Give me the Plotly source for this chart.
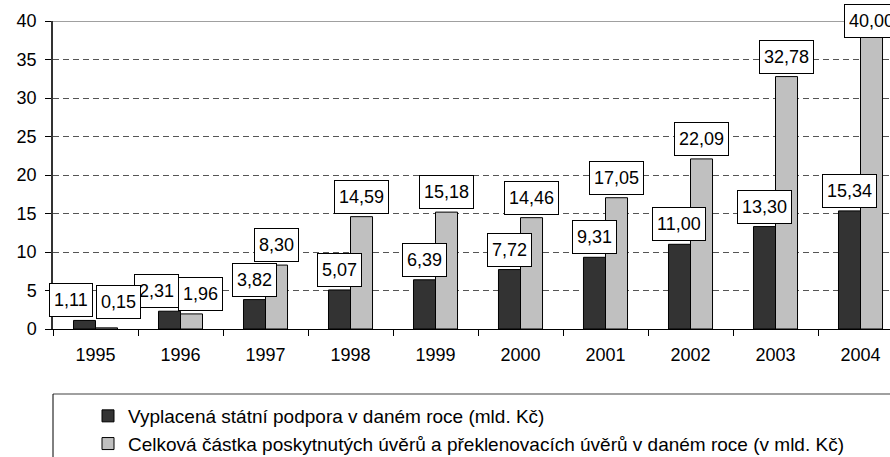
import plotly.graph_objects as go

years = ["1995", "1996", "1997", "1998", "1999", "2000", "2001", "2002", "2003", "2004"]
state_support = [1.11, 2.31, 3.82, 5.07, 6.39, 7.72, 9.31, 11.00, 13.30, 15.34]
total_loans = [0.15, 1.96, 8.30, 14.59, 15.18, 14.46, 17.05, 22.09, 32.78, 40.00]
y_ticks = [0, 5, 10, 15, 20, 25, 30, 35, 40]

name_support = "Vyplacená státní podpora v daném roce (mld. Kč)"
name_loans = "Celková částka poskytnutých úvěrů a překlenovacích úvěrů v daném roce (v mld. Kč)"

# label nudges (px) to avoid overlapping boxes
dx_support = [-13, -13, 0, 0, 0, 0, 0, 0, 0, 0]
dx_loans = [12, 9, 0, 0, 0, 0, 0, 0, 0, 0]
dy_loans = [6, 0, 0, 0, 0, 0, 0, 0, 0, 0]

W, H = 890, 457
ML, MR, MT, MB = 53, 0, 21, 128
BARGAP = 0.482
CAT_PX = 85.0
plot_w = W - ML - MR
plot_h = H - MT - MB
ymax = 40
x_hi = -0.5 + plot_w / CAT_PX

FONT = "Liberation Sans, Arial, sans-serif"

fig = go.Figure()
fig.add_trace(go.Bar(x=years, y=state_support, name=name_support,
                     marker=dict(color="#333333", line=dict(color="black", width=1)),
                     legendgroup="a"))
fig.add_trace(go.Bar(x=years, y=total_loans, name=name_loans,
                     marker=dict(color="#C0C0C0", line=dict(color="black", width=1)),
                     legendgroup="b"))

bar_off = (1 - BARGAP) / 4  # in category units
px_per_unit = plot_h / ymax
box_h = 34

for series, sign, dxs, dys in [(state_support, -1, dx_support, [0] * 10),
                               (total_loans, 1, dx_loans, dy_loans)]:
    for i, v in enumerate(series):
        txt = f"{v:.2f}".replace(".", ",")
        top_px = (ymax - v) * px_per_unit
        if top_px < box_h:
            yanchor, ysh = "middle", 0
        else:
            yanchor, ysh = "bottom", 3 + dys[i]
        fig.add_annotation(
            x=i + sign * bar_off, y=v, xref="x", yref="y", text=txt, showarrow=False,
            xanchor="center", yanchor=yanchor,
            xshift=dxs[i], yshift=ysh, height=24,
            font=dict(family=FONT, size=18, color="black"),
            bgcolor="white", bordercolor="black", borderwidth=1, borderpad=4,
        )

leg_top = -(394 - (H - MB)) / plot_h
fig.add_shape(type="line", xref="paper", yref="y", x0=0, x1=1, y0=ymax, y1=ymax,
              line=dict(color="#808080", width=1.5))
fig.add_shape(type="line", xref="paper", yref="paper", x0=0, x1=1.1, y0=leg_top, y1=leg_top,
              line=dict(color="#808080", width=1.5))
fig.add_shape(type="line", xref="paper", yref="paper", x0=0, x1=0, y0=leg_top, y1=-0.6,
              line=dict(color="black", width=1))

fig.update_layout(
    width=W, height=H,
    margin=dict(l=ML, r=MR, t=MT, b=MB, pad=0, autoexpand=False),
    plot_bgcolor="white", paper_bgcolor="white",
    barmode="group", bargap=BARGAP, bargroupgap=0,
    font=dict(family=FONT, size=17, color="black"),
    showlegend=True,
    legend=dict(x=(88 - ML) / plot_w, y=-(397 - (H - MB)) / plot_h,
                xanchor="left", yanchor="top",
                font=dict(family=FONT, size=19, color="black"),
                bgcolor="rgba(0,0,0,0)", borderwidth=0,
                traceorder="grouped", tracegroupgap=0),
    xaxis=dict(type="category", range=[-0.5, x_hi], automargin=False,
               showline=True, linecolor="black", linewidth=1,
               ticks="outside", tickson="boundaries", ticklen=6, tickcolor="black",
               showgrid=False, tickfont=dict(family=FONT, size=18),
               ticklabelstandoff=9),
    yaxis=dict(range=[0, ymax], tickvals=y_ticks, ticktext=[str(t) for t in y_ticks],
               automargin=False,
               showline=True, linecolor="#333333", linewidth=1.5,
               ticks="outside", ticklen=6, tickcolor="black",
               showgrid=True, gridcolor="#555555", gridwidth=1, griddash="6px,4px",
               zeroline=False, tickfont=dict(family=FONT, size=18),
               ticklabelstandoff=5),
)

fig.write_html("out.html",
               config={"displayModeBar": False},
               post_script="document.body.style.margin='0';document.body.style.overflow='hidden';")
